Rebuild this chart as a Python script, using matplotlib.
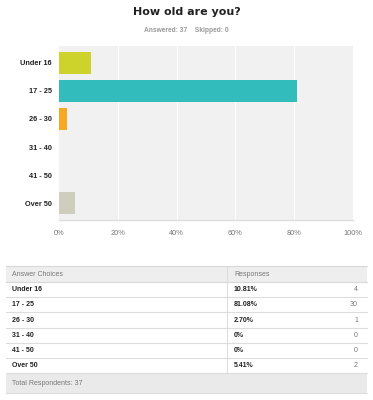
import matplotlib
matplotlib.use("Agg")
import matplotlib.pyplot as plt
from matplotlib.patches import Rectangle

categories = ["Under 16", "17 - 25", "26 - 30", "31 - 40", "41 - 50", "Over 50"]
counts = [4, 30, 1, 0, 0, 2]
percents = [10.81, 81.08, 2.70, 0, 0, 5.41]
pct_labels = ["10.81%", "81.08%", "2.70%", "0%", "0%", "5.41%"]
bar_colors = ["#cdd32a", "#32bcbc", "#f7a823", "#d0cfc0", "#d0cfc0", "#cfcdbe"]
xticks = [0, 20, 40, 60, 80, 100]
xtick_labels = ["0%", "20%", "40%", "60%", "80%", "100%"]
answered = 37
skipped = 0

plt.rcParams["font.family"] = ["Liberation Sans", "DejaVu Sans"]

W, H = 373, 400
fig = plt.figure(figsize=(W / 100, H / 100), dpi=100)

# ---- bar chart ----
ax = fig.add_axes([59 / W, 1 - 220 / H, 294 / W, 174 / H])
ax.set_facecolor("#f1f1f1")
ypos = list(range(len(categories)))
ax.barh(ypos, percents, height=0.76, color=bar_colors, zorder=3)
ax.set_ylim(len(categories) - 0.4, -0.6)
ax.set_xlim(0, 100)
ax.set_xticks(xticks)
ax.set_xticklabels(xtick_labels, fontsize=5.3, color="#777777")
ax.set_yticks(ypos)
ax.set_yticklabels(categories, fontsize=5.3, fontweight="bold", color="#222222")
ax.tick_params(axis="both", length=0)
ax.tick_params(axis="x", pad=7)
ax.tick_params(axis="y", pad=5)
for x in xticks[1:-1]:
    ax.axvline(x, color="white", lw=0.8, zorder=1)
for s in ["top", "right", "left"]:
    ax.spines[s].set_visible(False)
ax.spines["bottom"].set_color("#dddddd")
ax.spines["bottom"].set_linewidth(1.0)

fig.text(0.5, 1 - 12 / H, "How old are you?", ha="center", va="center",
         fontsize=8, fontweight="bold", color="#222222", family=["DejaVu Sans"])
fig.text(0.5, 1 - 30 / H, f"Answered: {answered}    Skipped: {skipped}", ha="center",
         va="center", fontsize=4.8, fontweight="bold", color="#999999")

# ---- table ----
tax = fig.add_axes([0, 0, 1, 1])
tax.set_xlim(0, W)
tax.set_ylim(H, 0)
tax.axis("off")

left, right, mid = 6, 367, 227
top = 266
header_h = 16
row_h = 15.2
footer_h = 20
rows_bottom = top + header_h + row_h * len(categories)
bottom = rows_bottom + footer_h

tax.add_patch(Rectangle((left, top), right - left, header_h, facecolor="#eeeeee",
                        edgecolor="none"))
tax.add_patch(Rectangle((left, rows_bottom), right - left, footer_h, facecolor="#eaeaea",
                        edgecolor="none"))
tax.plot([left, right], [top, top], color="#d8d8d8", lw=0.8)
tax.plot([left, right], [top + header_h, top + header_h], color="#d8d8d8", lw=0.8)
for i in range(1, len(categories) + 1):
    y = top + header_h + row_h * i
    tax.plot([left, right], [y, y], color="#dddddd", lw=0.8)
tax.plot([left, right], [bottom, bottom], color="#dddddd", lw=0.8)
tax.plot([mid, mid], [top, rows_bottom], color="#dddddd", lw=0.8)

tax.text(left + 6, top + header_h / 2, "Answer Choices", fontsize=5, color="#777777",
         va="center")
tax.text(mid + 7, top + header_h / 2, "Responses", fontsize=5, color="#777777",
         va="center")
for i, (c, p, n) in enumerate(zip(categories, pct_labels, counts)):
    y = top + header_h + row_h * (i + 0.5)
    tax.text(left + 6, y, c, fontsize=5, fontweight="bold", color="#222222", va="center")
    tax.text(mid + 7, y, p, fontsize=5, fontweight="bold", color="#222222", va="center")
    tax.text(right - 9, y, str(n), fontsize=5, color="#777777", va="center", ha="right")
tax.text(left + 6, rows_bottom + footer_h / 2, f"Total Respondents: {answered}",
         fontsize=5, color="#777777", va="center")

fig.savefig("out.png", dpi=100, facecolor="white")
